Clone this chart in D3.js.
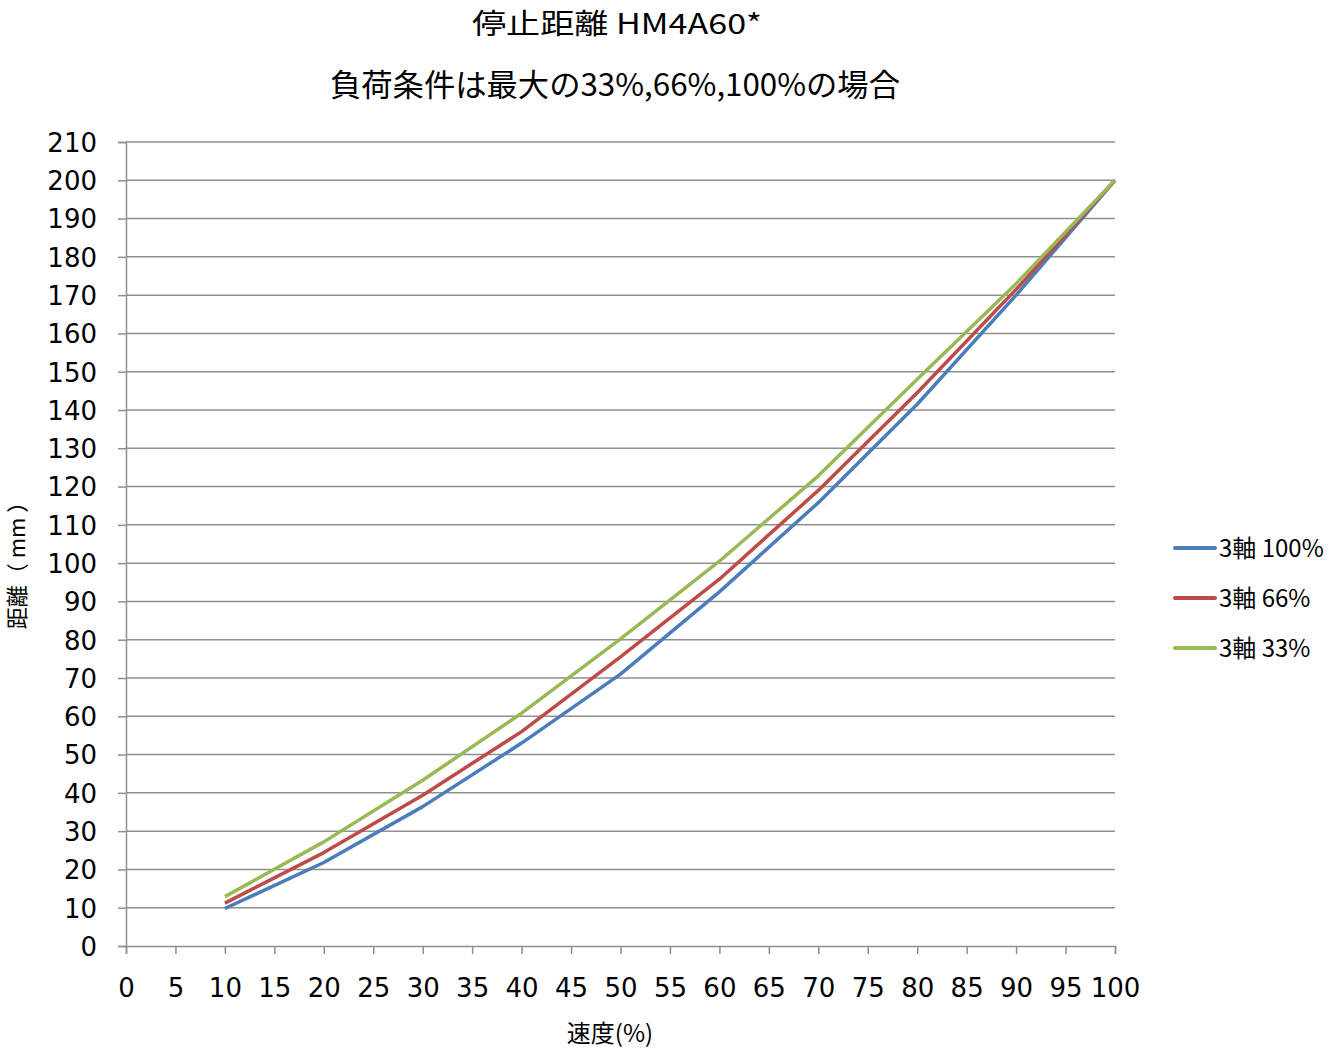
<!DOCTYPE html>
<html><head><meta charset="utf-8">
<script src="https://cdn.jsdelivr.net/npm/d3@7"></script>
<style>body{margin:0;background:#fff}</style>
</head><body>
<script>
const speeds = [10,20,30,40,50,60,70,80,90,100];
const seriesNames = ["3軸 100%","3軸 66%","3軸 33%"];
const load100 = [9.8,21.8,36.4,53,71,92.5,115.8,141.5,170,200];
const load66  = [11.2,24.4,39.4,56,75.5,95.8,119,144.5,171.5,200];
const load33  = [12.9,27.2,43.3,60.8,80.2,100.5,122.8,148,173,200];
const seriesColors = ["#4a7ebb","#be4b48","#98b954"];
const xTicks = d3.range(0,101,5);
const yTicks = d3.range(0,211,10);
const titleLines = ["停止距離 HM4A60*","負荷条件は最大の33%,66%,100%の場合"];
const xLabel = "速度(%)";
const yLabel = "距離（ mm ）";

const W=1331,H=1050;
const svg=d3.select("body").append("svg").attr("width",W).attr("height",H);
const m={l:126,r:1115,t:142,b:946};
const x=d3.scaleLinear().domain([0,100]).range([m.l,m.r]);
const y=d3.scaleLinear().domain([0,210]).range([m.b,m.t]);
const grid="#8f8f8f";
const jp="'Noto Sans CJK JP','Noto Sans',sans-serif";
const num="'DejaVu Sans',Verdana,sans-serif";

// gridlines
svg.append("g").selectAll("line").data(yTicks.filter(d=>d>0)).join("line")
  .attr("x1",m.l).attr("x2",m.r).attr("y1",d=>y(d)).attr("y2",d=>y(d))
  .attr("stroke",grid).attr("stroke-width",1.5);

// y axis
const ya=svg.append("g").attr("transform",`translate(${m.l},0)`)
  .call(d3.axisLeft(y).tickValues(yTicks).tickSize(8).tickPadding(6));
ya.attr("font-family",num).attr("font-size",26);
ya.select(".domain").attr("stroke",grid).attr("stroke-width",1.5);
ya.selectAll(".tick line").attr("stroke",grid).attr("stroke-width",1.5);
ya.selectAll("text").attr("fill","#000").attr("dy","0.36em").attr("x",-29);

// x axis
const xa=svg.append("g").attr("transform",`translate(0,${m.b})`)
  .call(d3.axisBottom(x).tickValues(xTicks).tickSize(8).tickPadding(25));
xa.attr("font-family",num).attr("font-size",26);
xa.select(".domain").attr("stroke",grid).attr("stroke-width",1.5);
xa.selectAll(".tick line").attr("stroke",grid).attr("stroke-width",1.5);
xa.selectAll("text").attr("fill","#000");

// lines
const data=[load100,load66,load33];
const line=d3.line().x((d,i)=>x(speeds[i])).y(d=>y(d));
svg.append("g").selectAll("path").data(data).join("path")
  .attr("d",line).attr("fill","none")
  .attr("stroke",(d,i)=>seriesColors[i]).attr("stroke-width",3.5)
  .attr("stroke-linejoin","round");

// titles
svg.append("text").attr("x",617).attr("y",34).attr("text-anchor","middle")
  .attr("font-family",jp).attr("font-size",28)
  .attr("textLength",290).attr("lengthAdjust","spacingAndGlyphs").text(titleLines[0]);
svg.append("text").attr("x",615).attr("y",96).attr("text-anchor","middle")
  .attr("font-family",jp).attr("font-size",31)
  .attr("textLength",570).attr("lengthAdjust","spacingAndGlyphs").text(titleLines[1]);

// axis labels
svg.append("text").attr("x",610).attr("y",1042).attr("text-anchor","middle")
  .attr("font-family",jp).attr("font-size",24).text(xLabel);
svg.append("text").attr("transform","translate(25,560) rotate(-90)").attr("text-anchor","middle")
  .attr("font-family",jp).attr("font-size",22).text(yLabel);

// legend
const lg=svg.append("g").selectAll("g").data(seriesNames).join("g")
  .attr("transform",(d,i)=>`translate(1175,${548+i*50})`);
lg.append("line").attr("x1",0).attr("x2",40).attr("stroke",(d,i)=>seriesColors[i]).attr("stroke-width",4).attr("stroke-linecap","round");
lg.append("text").attr("x",44).attr("dy","0.36em").attr("font-family",jp).attr("font-size",24).text(d=>d);
</script>
</body></html>
